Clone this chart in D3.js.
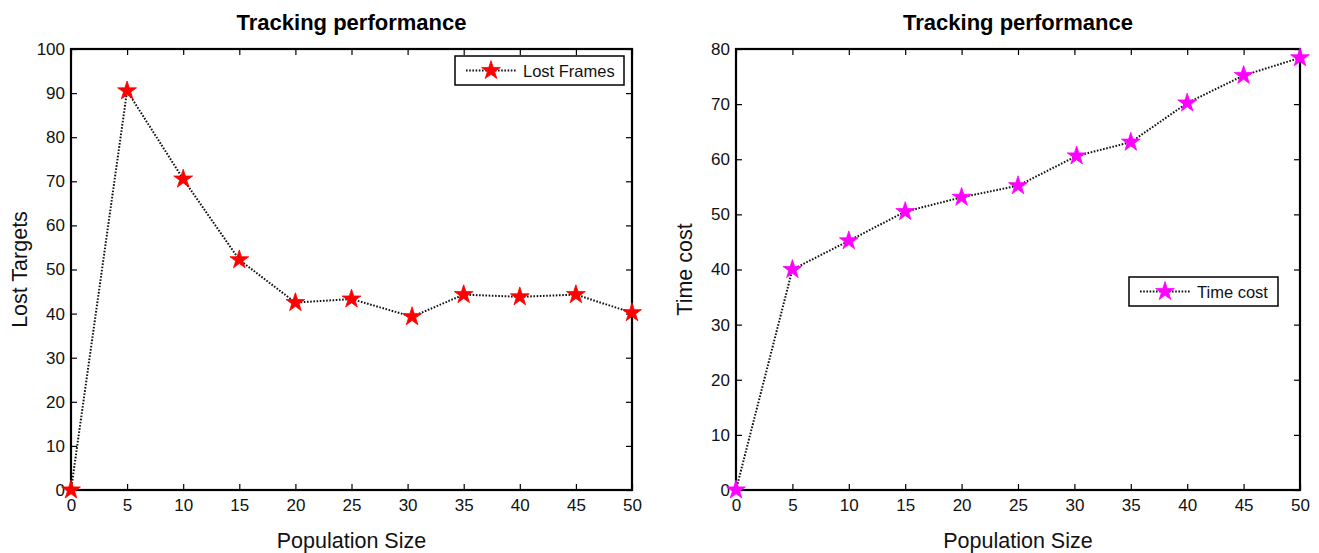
<!DOCTYPE html>
<html>
<head>
<meta charset="utf-8">
<script src="https://cdn.jsdelivr.net/npm/d3@7"></script>
<style>
  body { margin: 0; background: #fff; }
  svg { display: block; font-family: Arial, "Liberation Sans", sans-serif; }
</style>
</head>
<body>
<div id="chart"></div>
<script>
// population sizes (x) and the two measured series
const popLost = [0, 5, 10, 15, 20, 25, 30.4, 35, 40, 45, 50];
const lostFrames = [0, 90.5, 70.5, 52.2, 42.5, 43.3, 39.3, 44.3, 43.8, 44.3, 40.2];
const popTime = [0, 5, 10, 15, 20, 25, 30.2, 35, 40, 45, 50];
const timeCost = [0, 40.0, 45.2, 50.5, 53.1, 55.2, 60.6, 63.1, 70.2, 75.2, 78.4];
const xTicks = d3.range(0, 51, 5);
const yTicksLost = d3.range(0, 101, 10);
const yTicksTime = d3.range(0, 81, 10);

const W = 1319, H = 553;
const svg = d3.select("#chart").append("svg").attr("width", W).attr("height", H);

function drawPanel(cfg) {
  const x = d3.scaleLinear().domain([0, 50]).range([cfg.left, cfg.right]);
  const y = d3.scaleLinear().domain([0, cfg.yMax]).range([cfg.bottom, cfg.top]);
  const g = svg.append("g");
  const tickLen = 6;

  // ticks on all four sides, pointing in
  g.append("g").attr("transform", `translate(0,${cfg.bottom})`)
    .call(d3.axisBottom(x).tickValues(xTicks).tickSizeInner(-tickLen).tickSizeOuter(0).tickPadding(9));
  g.append("g").attr("transform", `translate(0,${cfg.top})`)
    .call(d3.axisTop(x).tickValues(xTicks).tickSizeInner(-tickLen).tickSizeOuter(0).tickFormat(""));
  g.append("g").attr("transform", `translate(${cfg.left},0)`)
    .call(d3.axisLeft(y).tickValues(cfg.yTicks).tickSizeInner(-tickLen).tickSizeOuter(0).tickPadding(6));
  g.append("g").attr("transform", `translate(${cfg.right},0)`)
    .call(d3.axisRight(y).tickValues(cfg.yTicks).tickSizeInner(-tickLen).tickSizeOuter(0).tickFormat(""));
  g.selectAll(".domain").remove();
  g.selectAll(".tick line").attr("stroke", "#000").attr("stroke-width", 1.2);
  g.selectAll(".tick text").attr("font-size", 17).attr("fill", "#111")
    .attr("font-family", "Arial, 'Liberation Sans', sans-serif");

  g.append("rect")
    .attr("x", cfg.left).attr("y", cfg.top)
    .attr("width", cfg.right - cfg.left).attr("height", cfg.bottom - cfg.top)
    .attr("fill", "none").attr("stroke", "#000").attr("stroke-width", 2.2);

  const pts = cfg.xs.map((d, i) => [d, cfg.ys[i]]);
  const line = d3.line().x(d => x(d[0])).y(d => y(d[1]));
  g.append("path").datum(pts).attr("d", line)
    .attr("fill", "none").attr("stroke", "#111").attr("stroke-width", 2)
    .attr("stroke-dasharray", "1.6,1.6");

  const star = d3.symbol().type(d3.symbolStar).size(110);
  g.selectAll(".pt").data(pts).enter().append("path")
    .attr("transform", d => `translate(${x(d[0])},${y(d[1])})`)
    .attr("d", star).attr("fill", cfg.color).attr("stroke", cfg.color).attr("stroke-width", 0.8);

  const cx = (cfg.left + cfg.right) / 2;
  g.append("text").attr("x", cx).attr("y", 30).attr("text-anchor", "middle")
    .attr("font-size", 22).attr("font-weight", "bold").attr("fill", "#000")
    .text("Tracking performance");
  g.append("text").attr("x", cx).attr("y", 548).attr("text-anchor", "middle")
    .attr("font-size", 21.5).attr("fill", "#111").text("Population Size");
  g.append("text")
    .attr("transform", `translate(${cfg.left - 44},${(cfg.top + cfg.bottom) / 2}) rotate(-90)`)
    .attr("text-anchor", "middle").attr("font-size", 21.5).attr("fill", "#111").text(cfg.yLabel);

  // legend
  const L = cfg.legend;
  const lg = g.append("g").attr("transform", `translate(${L.x},${L.y})`);
  lg.append("rect").attr("width", L.w).attr("height", 29)
    .attr("fill", "#fff").attr("stroke", "#000").attr("stroke-width", 1.5);
  lg.append("line").attr("x1", 11).attr("x2", 61).attr("y1", 14.5).attr("y2", 14.5)
    .attr("stroke", "#111").attr("stroke-width", 2).attr("stroke-dasharray", "1.6,1.6");
  lg.append("path").attr("transform", "translate(36,14.5)").attr("d", star)
    .attr("fill", cfg.color).attr("stroke", cfg.color).attr("stroke-width", 0.8);
  lg.append("text").attr("x", 68).attr("y", 20.5).attr("font-size", 16.5).attr("fill", "#111").text(cfg.name);
}

drawPanel({
  left: 71, right: 632, top: 49, bottom: 490, yMax: 100, yTicks: yTicksLost,
  xs: popLost, ys: lostFrames, color: "#ff0000", yLabel: "Lost Targets", name: "Lost Frames",
  legend: { x: 455, y: 56, w: 169 }
});
drawPanel({
  left: 736, right: 1300, top: 49, bottom: 490, yMax: 80, yTicks: yTicksTime,
  xs: popTime, ys: timeCost, color: "#ff00ff", yLabel: "Time cost", name: "Time cost",
  legend: { x: 1129, y: 277, w: 149 }
});
</script>
</body>
</html>
